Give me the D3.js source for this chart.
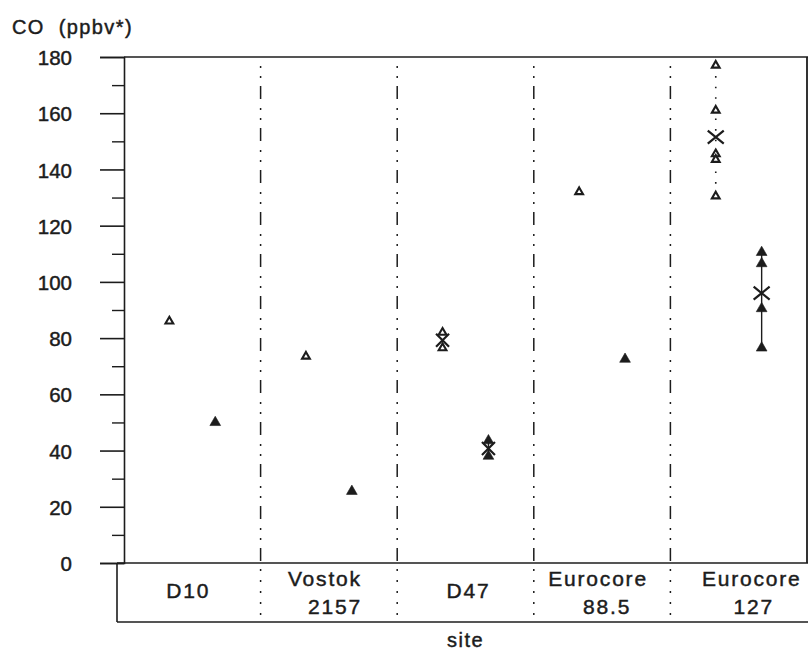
<!DOCTYPE html>
<html>
<head>
<meta charset="utf-8">
<script src="https://cdn.jsdelivr.net/npm/d3@7"></script>
<style>
  html, body { margin: 0; padding: 0; background: #fff; }
  svg { display: block; }
  text { font-family: "Liberation Sans", Arial, Helvetica, sans-serif; fill: #1c1c1c; stroke: #1c1c1c; stroke-width: 0.45px; }
</style>
</head>
<body>
<svg id="chart" width="812" height="652"></svg>
<script>
// ---- data ----
const categories = ["D10", "Vostok 2157", "D47", "Eurocore 88.5", "Eurocore 127"];
const categoryLines = [["D10"], ["Vostok", "2157"], ["D47"], ["Eurocore", "88.5"], ["Eurocore", "127"]];
const openValues = [[86], [73.5], [82, 76.5], [132], [177, 161, 145.5, 143.5, 130.5]];
const filledValues = [[50], [25.5], [43.5, 38], [72.5], [110.5, 106.5, 90.5, 76.5]];
const majorTicks = [0, 20, 40, 60, 80, 100, 120, 140, 160, 180];
const minorTicks = [10, 30, 50, 70, 90, 110, 130, 150, 170];
const yLabel = "CO  (ppbv*)";
const xLabel = "site";

// ---- layout ----
const svg = d3.select("#chart");
const pLeft = 124, pRight = 807, pTop = 57, pBottom = 563, tableBottom = 622, tableLeft = 117;
const ink = "#1c1c1c";

const x = d3.scaleBand().domain(categories).range([pLeft, pRight]).padding(0);
const bw = x.bandwidth();
const sub = d3.scalePoint().domain(["open", "filled"]).range([bw * 0.332, bw * 0.668]);
const y = d3.scaleLinear().domain([0, 180]).range([pBottom, pTop]);

// y axis major ticks
const gMaj = svg.append("g").attr("transform", `translate(${pLeft},0)`)
  .call(d3.axisLeft(y).tickValues(majorTicks).tickSize(24).tickPadding(28).tickFormat(d3.format("d")));
gMaj.select(".domain").attr("stroke", ink).attr("stroke-width", 1.6);
gMaj.selectAll(".tick line").attr("stroke", ink).attr("stroke-width", 1.6);
gMaj.selectAll(".tick text").attr("font-size", 20.5).attr("fill", ink)
  .attr("font-family", "'Liberation Sans', Arial, sans-serif").attr("dy", "0.37em");

// minor ticks
const gMin = svg.append("g").attr("transform", `translate(${pLeft},0)`)
  .call(d3.axisLeft(y).tickValues(minorTicks).tickSize(12).tickFormat(""));
gMin.select(".domain").remove();
gMin.selectAll(".tick line").attr("stroke", ink).attr("stroke-width", 1.4);

// plot frame: top, right, bottom
svg.append("line").attr("x1", pLeft).attr("x2", pRight + 1).attr("y1", pTop).attr("y2", pTop)
  .attr("stroke", ink).attr("stroke-width", 1.6);
svg.append("line").attr("x1", pRight).attr("x2", pRight).attr("y1", pTop).attr("y2", pBottom)
  .attr("stroke", ink).attr("stroke-width", 1.8);
svg.append("line").attr("x1", tableLeft).attr("x2", pRight + 1).attr("y1", pBottom).attr("y2", pBottom)
  .attr("stroke", ink).attr("stroke-width", 1.6);

// category table
svg.append("line").attr("x1", tableLeft).attr("x2", tableLeft).attr("y1", pBottom).attr("y2", tableBottom)
  .attr("stroke", ink).attr("stroke-width", 1.6);
svg.append("line").attr("x1", tableLeft).attr("x2", pRight + 1).attr("y1", tableBottom).attr("y2", tableBottom)
  .attr("stroke", ink).attr("stroke-width", 1.6);

// dividers
categories.slice(1).forEach(c => {
  const xx = x(c);
  svg.append("line").attr("x1", xx).attr("x2", xx).attr("y1", pTop).attr("y2", pBottom)
    .attr("stroke", ink).attr("stroke-width", 1.5)
    .attr("stroke-dasharray", "13,9,2,8,2,8").attr("stroke-dashoffset", 13);
  svg.append("line").attr("x1", xx).attr("x2", xx).attr("y1", pBottom + 6).attr("y2", tableBottom)
    .attr("stroke", ink).attr("stroke-width", 1.5)
    .attr("stroke-dasharray", "2,9");
});

// category labels
const lineShift = [[-4], [-4, 6], [3], [-4, 5], [13, 15]];
categories.forEach((c, i) => {
  const cx = x(c) + bw / 2;
  const lines = categoryLines[i];
  lines.forEach((t, j) => {
    const by = lines.length === 1 ? 598 : (j === 0 ? 586 : 614);
    svg.append("text").attr("x", cx + lineShift[i][j]).attr("y", by)
      .attr("text-anchor", "middle").attr("font-size", 21).attr("letter-spacing", 1.8)
      .text(t);
  });
});

// axis titles
svg.append("text").attr("x", 12).attr("y", 34).attr("font-size", 20)
  .attr("letter-spacing", 1.4).style("white-space", "pre").text(yLabel);
svg.append("text").attr("x", (pLeft + pRight) / 2).attr("y", 647).attr("text-anchor", "middle")
  .attr("font-size", 20).attr("letter-spacing", 1.5).text(xLabel);

// ---- marks ----
const groups = [];
categories.forEach((c, i) => {
  groups.push({ cat: c, kind: "open", vals: openValues[i] });
  groups.push({ cat: c, kind: "filled", vals: filledValues[i] });
});

const gData = svg.append("g");
groups.forEach(g => {
  const gx = x(g.cat) + sub(g.kind);
  if (g.vals.length > 1) {
    const lo = d3.min(g.vals), hi = d3.max(g.vals);
    gData.append("line").attr("x1", gx).attr("x2", gx).attr("y1", y(hi)).attr("y2", y(lo))
      .attr("stroke", ink).attr("stroke-width", g.kind === "open" ? 1.6 : 1.4)
      .attr("stroke-dasharray", g.kind === "open" ? "1.6,9" : null);
  }
  g.vals.forEach(v => {
    const tri = d3.symbol().type(d3.symbolTriangle).size(g.kind === "open" ? 26 : 50)();
    gData.append("path").attr("d", tri).attr("transform", `translate(${gx},${y(v)})`)
      .attr("fill", g.kind === "open" ? "#fff" : ink)
      .attr("stroke", ink).attr("stroke-width", g.kind === "open" ? 2.1 : 0.6)
      .attr("stroke-linejoin", "miter");
  });
  if (g.vals.length > 1) {
    const m = d3.mean(g.vals);
    const hx = g.vals.length > 3 ? 8 : 6.5, hy = 6.5;
    gData.append("path")
      .attr("d", `M${gx - hx},${y(m) - hy}L${gx + hx},${y(m) + hy}M${gx - hx},${y(m) + hy}L${gx + hx},${y(m) - hy}`)
      .attr("stroke", ink).attr("stroke-width", 2.2).attr("fill", "none");
  }
});
</script>
</body>
</html>
